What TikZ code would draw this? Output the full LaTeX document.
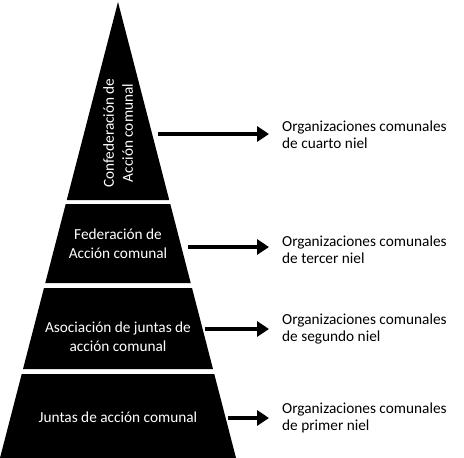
\documentclass[tikz,border=0pt]{standalone}
\usepackage{fontspec}
\setmainfont{Carlito}
\usetikzlibrary{arrows.meta}
\tikzset{
  tiertext/.style={text=white, align=center, inner sep=0pt, font=\fontsize{15.3}{19}\selectfont},
  leveltext/.style={anchor=west, align=left, inner sep=0pt, font=\fontsize{15.3}{17}\selectfont},
  levelarrow/.style={line width=4.5pt, -{Triangle[length=12pt,width=15pt]}, shorten >=13pt}
}
\begin{document}
\begin{tikzpicture}[x=1pt, y=-1pt]
\useasboundingbox (0,0) rectangle (464,458);

% pyramid tiers
\foreach \t/\b in {2/200, 204/283, 288/369, 374/458}
  \fill ({118-0.2588*(\t-2)},\t) -- ({118+0.2588*(\t-2)},\t)
    -- ({118+0.2588*(\b-2)},\b) -- ({118-0.2588*(\b-2)},\b) -- cycle;

\node[tiertext, rotate=90] (conf) at (118,133) {Confederación de\\Acción comunal};
\node[tiertext] (fede) at (118,244) {Federación de\\Acción comunal};
\node[tiertext] (asoc) at (118,337) {Asociación de juntas de\\acción comunal};
\node[tiertext] (junt) at (118,417) {Juntas de acción comunal};

% levels
\node[leveltext] (cuarto) at (282,135) {Organizaciones comunales\\de cuarto niel};
\node[leveltext] (tercer) at (282,250) {Organizaciones comunales\\de tercer niel};
\node[leveltext] (segundo) at (282,329) {Organizaciones comunales\\de segundo niel};
\node[leveltext] (primer) at (282,418) {Organizaciones comunales\\de primer niel};

\coordinate (a1) at (158,134);
\coordinate (a2) at (188,247);
\coordinate (a3) at (205,329);
\coordinate (a4) at (228,418);
\draw[levelarrow] (a1) -- (a1 -| cuarto.west);
\draw[levelarrow] (a2) -- (a2 -| tercer.west);
\draw[levelarrow] (a3) -- (a3 -| segundo.west);
\draw[levelarrow] (a4) -- (a4 -| primer.west);

\end{tikzpicture}
\end{document}
